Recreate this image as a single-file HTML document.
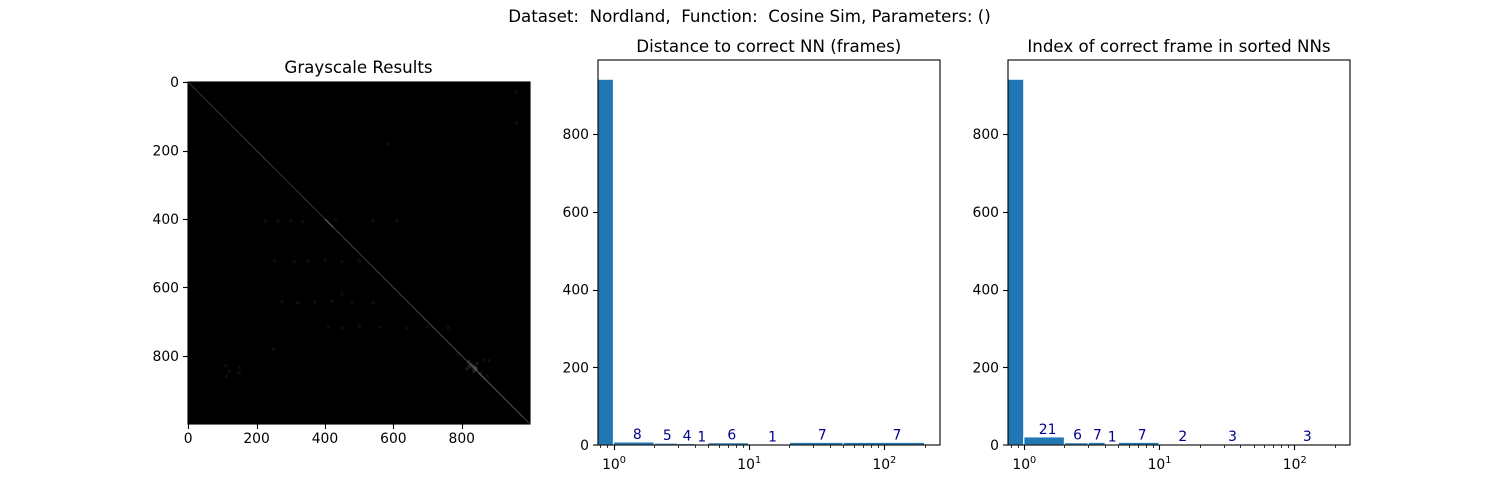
<!DOCTYPE html>
<html lang="en">
<head>
<meta charset="utf-8">
<title>Nordland Cosine Sim Results</title>
<style>
html,body{margin:0;padding:0;background:#fff;}
svg{display:block;}
text{font-family:"DejaVu Sans","Liberation Sans",sans-serif;fill:#000;}
</style>
</head>
<body>
<svg id="fig" xmlns="http://www.w3.org/2000/svg" width="1500" height="500" viewBox="0 0 1500 500">
  <defs>
    <filter id="soft" x="-5%" y="-5%" width="110%" height="110%"><feGaussianBlur stdDeviation="0.5"/></filter>
  </defs>
  <text x="749.5" y="22" style="font-size:16.67px" text-anchor="middle" xml:space="preserve">Dataset:  Nordland,  Function:  Cosine Sim, Parameters: ()</text>
  <text x="358.5" y="73" style="font-size:16.67px" text-anchor="middle">Grayscale Results</text>
  <text x="768.8" y="52" style="font-size:16.67px" text-anchor="middle">Distance to correct NN (frames)</text>
  <text x="1179" y="52" style="font-size:16.67px" text-anchor="middle">Index of correct frame in sorted NNs</text>
  <g id="heat"></g>
  <g id="dist"></g>
  <g id="idx"></g>
</svg>
<script>
// Histogram data
const binEdges = [0.1, 1, 2, 3, 4, 5, 10, 20, 50, 200];
const labelCenters = [null, 1.5, 2.5, 3.5, 4.5, 7.5, 15, 35, 125];
const distanceCounts = [941, 8, 5, 4, 1, 6, 1, 7, 7];
const indexCounts = [941, 21, 6, 7, 1, 7, 2, 3, 3];
const histYTicks = [0, 200, 400, 600, 800];
const logMajorTicks = [1, 10, 100];
const logMajorExponents = ['0', '1', '2'];
const logMinorTicks = [0.8, 0.9, 2, 3, 4, 5, 6, 7, 8, 9, 20, 30, 40, 50, 60, 70, 80, 90, 200];

// Heatmap data
const heatTicks = [0, 200, 400, 600, 800];
const diagonalBrightness = [56,58,62,60,54,62,66,68,66,62,60,56,58,62,58,60,130,74,72,70,66,68,74,70,72,70,76,80,82,78,82,84,80,88,120,104,98,92,88,70];
const diagonalStep = 25;
const speckleRows = [405,405,405,408,402,405,405,522,525,522,520,525,522,642,645,642,640,642,645,716,718,714,716,720,716,718,830,845,860,835,850,818,825,830,835,840,832,845,822,838,850,795,860,815,812,30,120,180,620,780];
const speckleCols = [225,262,300,335,430,540,610,252,310,350,400,450,500,275,320,370,420,480,540,410,450,500,560,640,700,760,110,120,112,150,148,820,826,832,838,842,822,835,845,815,855,790,875,880,865,960,960,585,450,250];
const speckleGray = [11,12,10,10,13,11,10,10,12,13,12,11,10,11,12,13,12,13,11,10,11,12,12,13,14,13,13,14,11,12,11,50,60,55,85,70,34,40,28,28,22,16,16,16,14,10,11,12,9,9];

// Axis geometry
const SVGNS = 'http://www.w3.org/2000/svg';
function mk(tag, attrs, parent, text) {
  const el = document.createElementNS(SVGNS, tag);
  for (const k in attrs) el.setAttribute(k, attrs[k]);
  if (text !== undefined) el.textContent = text;
  parent.appendChild(el);
  return el;
}
const AX_W = 342, HIST_TOP = 60, HIST_BOTTOM = 445;
const histY = v => 445 - v * 0.38875;
const heatX = v => 188 + (v + 0.5) * 0.342;
const heatY = v => 82 + (v + 0.5) * 0.342;
const TICK = '#000';

// Heatmap
(function drawHeat() {
  const g = document.getElementById('heat');
  const bg = mk('rect', {x: 188, y: 82, width: 342, height: 342, fill: '#000'}, g);
  
  
  const soft = mk('g', {filter: 'url(#soft)'}, g);
  
  
  speckleRows.forEach((row, i) => {
    const v = speckleGray[i];
    const size = v > 20 ? 3 : 3.4;
    const cell = mk('rect', {x: heatX(speckleCols[i]) - size / 2, y: heatY(row) - size / 2, width: size, height: size, fill: `rgb(${v},${v},${v})`}, soft);
    
    
  });
  diagonalBrightness.forEach((v, i) => {
    const a = i * diagonalStep, b = (i + 1) * diagonalStep;
    const seg = mk('line', {x1: heatX(a), y1: heatY(a), x2: heatX(b), y2: heatY(b), stroke: `rgb(${v},${v},${v})`, 'stroke-width': 0.9}, g);
    
    
  });
  heatTicks.forEach(t => {
    const xt = mk('line', {x1: Math.round(heatX(t)) + 0.5, x2: Math.round(heatX(t)) + 0.5, y1: 424, y2: 429, stroke: TICK, 'stroke-width': 1.1}, g);
    
    
    const xl = mk('text', {x: heatX(t), y: 443, 'font-size': 13.89, 'text-anchor': 'middle'}, g, String(t));
    
    
  });
  heatTicks.forEach(t => {
    const yt = mk('line', {x1: 183, x2: 188, y1: Math.round(heatY(t)) + 0.5, y2: Math.round(heatY(t)) + 0.5, stroke: TICK, 'stroke-width': 1.1}, g);
    
    
    const yl = mk('text', {x: 179, y: heatY(t) + 5, 'font-size': 13.89, 'text-anchor': 'end'}, g, String(t));
    
    
  });
  const frame = mk('rect', {x: 188, y: 82, width: 342, height: 342, fill: 'none', stroke: '#000', 'stroke-width': 1.1}, g);
  
  
})();

// Histograms
function drawHist(gId, left, one, counts, clipId) {
  const g = document.getElementById(gId);
  const decade = 135.2;
  const x = v => one + Math.log10(v) * decade;
  const defs = mk('defs', {}, g);
  const clip = mk('clipPath', {id: clipId}, defs);
  mk('rect', {x: left, y: HIST_TOP, width: AX_W, height: HIST_BOTTOM - HIST_TOP}, clip);
  const bars = mk('g', {'clip-path': `url(#${clipId})`}, g);
  counts.forEach((c, i) => {
    const x0 = Math.max(x(binEdges[i]), left - 5), x1 = x(binEdges[i + 1]);
    const bar = mk('rect', {x: x0, y: histY(c), width: x1 - x0, height: HIST_BOTTOM - histY(c), fill: '#1f77b4', stroke: '#fff', 'stroke-width': 1.2}, bars);
    
    
  });
  counts.forEach((c, i) => {
    if (labelCenters[i] === null) return;
    const lab = mk('text', {x: x(labelCenters[i]), y: histY(c) - 3, 'font-size': 13.89, 'text-anchor': 'middle', style: 'fill:#00008b'}, g, String(c));
    
    
  });
  histYTicks.forEach(t => {
    const yy = Math.round(histY(t)) + (t === 0 ? 0 : 0.5);
    const tick = mk('line', {x1: left - 5, x2: left, y1: yy, y2: yy, stroke: TICK, 'stroke-width': 1.1}, g);
    
    
    const lab = mk('text', {x: left - 9, y: histY(t) + 5, 'font-size': 13.89, 'text-anchor': 'end'}, g, String(t));
    
    
  });
  logMinorTicks.forEach(t => {
    const xx = Math.round(x(t)) + 0.5;
    const tick = mk('line', {x1: xx, x2: xx, y1: HIST_BOTTOM, y2: HIST_BOTTOM + 3, stroke: TICK, 'stroke-width': 0.8}, g);
    
    
  });
  logMajorTicks.forEach((t, i) => {
    const xx = Math.round(x(t)) + 0.5;
    const tick = mk('line', {x1: xx, x2: xx, y1: HIST_BOTTOM, y2: HIST_BOTTOM + 5, stroke: TICK, 'stroke-width': 1.1}, g);
    
    
    const lab = mk('text', {x: x(t) + 0.5, y: 469, 'font-size': 13.89, 'text-anchor': 'middle'}, g, '10');
    mk('tspan', {dy: -6, 'font-size': 9.7}, lab, logMajorExponents[i]);
    
    
  });
  const frame = mk('rect', {x: left, y: HIST_TOP, width: AX_W, height: HIST_BOTTOM - HIST_TOP, fill: 'none', stroke: '#000', 'stroke-width': 1.1}, g);
  
  
}
drawHist('dist', 598, 613.5, distanceCounts, 'clip-dist');
drawHist('idx', 1008, 1023.8, indexCounts, 'clip-idx');
</script>
</body>
</html>
